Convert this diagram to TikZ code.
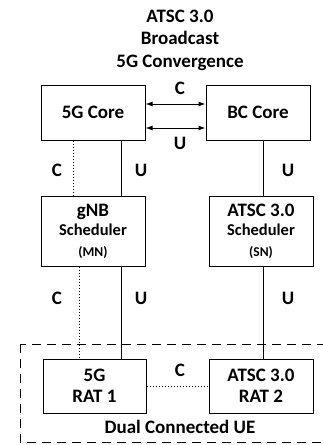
\documentclass[tikz,border=0pt]{standalone}
\usepackage{fontspec}
\setmainfont{Carlito}
\usetikzlibrary{arrows.meta, positioning}

\tikzset{
  blk/.style={draw, line width=1pt, align=center, inner sep=2pt,
    font=\fontsize{19}{21}\selectfont\bfseries},
  lbl/.style={font=\fontsize{19}{21}\selectfont\bfseries, inner sep=0pt},
  link/.style={line width=1pt},
  ctrl/.style={line width=1pt, dotted},
  biarrow/.style={line width=1pt, {Latex[length=7pt,width=5pt]}-{Latex[length=7pt,width=5pt]}}
}
\newcommand{\schedfont}{\fontsize{16.5}{18}\selectfont}
\newcommand{\nodefont}{\fontsize{13.5}{15}\selectfont}

\begin{document}
\begin{tikzpicture}[x=1pt, y=-1pt]
  \path[use as bounding box, clip] (0,0) rectangle (323,445);
  % Title
  \node[lbl, align=center] (title) at (180,40)
    {ATSC 3.0\\[1.5pt] Broadcast\\[1.5pt] 5G Convergence};
  % Cores
  \node[blk, minimum width=104pt, minimum height=55pt] (core5g) at (93,112.5) {5G Core};
  \node[blk, minimum width=104pt, minimum height=55pt] (bccore) at (258,112.5) {BC Core};
  % Schedulers
  \node[blk, minimum width=104pt, minimum height=70pt] (gnb) at (93,231)
    {gNB\\[-2pt]{\schedfont Scheduler}\\[0pt]{\nodefont (MN)}};
  \node[blk, minimum width=104pt, minimum height=70pt] (atscsch) at (261,231)
    {ATSC 3.0\\[-2pt]{\schedfont Scheduler}\\[0pt]{\nodefont (SN)}};
  % RATs of the UE
  \node[blk, minimum width=103pt, minimum height=54pt] (rat1) at (94.5,386) {5G\\RAT 1};
  \node[blk, minimum width=104pt, minimum height=54pt] (rat2) at (261,386) {ATSC 3.0\\RAT 2};
  % Dual connected UE frame
  \draw[line width=1pt, dash pattern=on 9pt off 6pt] (20,344) rectangle (345,442);
  \node[lbl] (ue) at (180,427) {Dual Connected UE};
  % Core to core
  \draw[biarrow] ([yshift=8.5pt]core5g.east) -- ([yshift=8.5pt]bccore.west);
  \draw[biarrow] ([yshift=-15.5pt]core5g.east) -- ([yshift=-15.5pt]bccore.west);
  \node[lbl] (cc) at (180,88) {C};
  \node[lbl] (cu) at (180,143) {U};
  % Core to scheduler
  \draw[ctrl] ([xshift=-20pt]core5g.south) -- ([xshift=-20pt]gnb.north);
  \draw[link] ([xshift=28pt]core5g.south) -- ([xshift=28pt]gnb.north);
  \draw[link] ([xshift=2pt]atscsch.north) -- ([xshift=2pt]atscsch.north |- bccore.south);
  \node[lbl] (upc) at (57,170) {C};
  \node[lbl] (upu) at (141,170) {U};
  \node[lbl] (upr) at (288,170) {U};
  % Scheduler to RAT
  \draw[ctrl] ([xshift=-14pt]gnb.south) -- ([xshift=-14pt]gnb.south |- rat1.north);
  \draw[link] ([xshift=28pt]gnb.south) -- ([xshift=28pt]gnb.south |- rat1.north);
  \draw[link] ([xshift=2pt]atscsch.south) -- ([xshift=2pt]atscsch.south |- rat2.north);
  \node[lbl] (loc) at (57,298) {C};
  \node[lbl] (lou) at (141,298) {U};
  \node[lbl] (lor) at (288,298) {U};
  % RAT to RAT
  \draw[ctrl] (rat1.east) -- (rat2.west);
  \node[lbl] (rc) at (180,370) {C};
\end{tikzpicture}
\end{document}
